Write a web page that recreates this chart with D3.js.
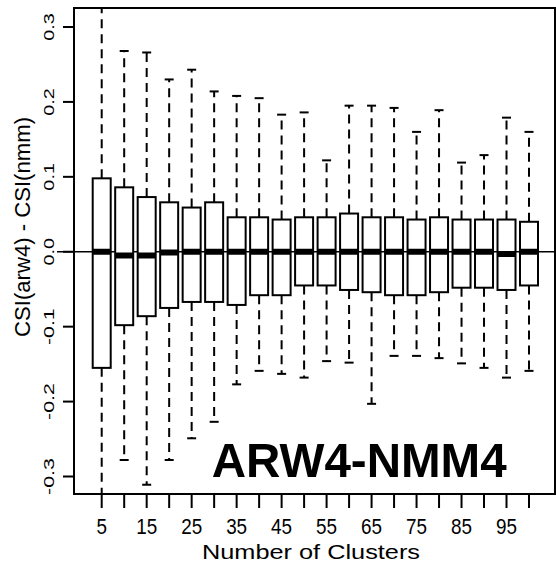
<!DOCTYPE html>
<html>
<head>
<meta charset="utf-8">
<script src="https://cdn.jsdelivr.net/npm/d3@7"></script>
<style>
  html, body { margin: 0; padding: 0; background: #fff; }
  svg text { font-family: "Liberation Sans", Arial, Helvetica, sans-serif; fill: #000; }
</style>
</head>
<body>
<div id="chart"></div>
<script>
// boxplot stats per cluster count
const clusters = [5, 10, 15, 20, 25, 30, 35, 40, 45, 50, 55, 60, 65, 70, 75, 80, 85, 90, 95, 100];
const lower    = [-0.36, -0.278, -0.311, -0.278, -0.249, -0.227, -0.177, -0.159, -0.163, -0.168,
                  -0.146, -0.148, -0.203, -0.139, -0.139, -0.142, -0.149, -0.155, -0.168, -0.159];
const q1       = [-0.155, -0.098, -0.086, -0.075, -0.067, -0.067, -0.071, -0.058, -0.058, -0.045,
                  -0.045, -0.051, -0.054, -0.058, -0.058, -0.054, -0.048, -0.048, -0.051, -0.045];
const medians  = [0.000, -0.005, -0.005, -0.001, 0.000, 0.000, 0.000, 0.000, 0.000, 0.000,
                  0.000, 0.000, 0.000, 0.000, 0.000, 0.000, 0.000, 0.000, -0.003, 0.000];
const q3       = [0.098, 0.086, 0.073, 0.066, 0.059, 0.066, 0.046, 0.046, 0.043, 0.046,
                  0.046, 0.051, 0.046, 0.046, 0.043, 0.046, 0.043, 0.043, 0.043, 0.040];
const upper    = [0.36, 0.268, 0.266, 0.230, 0.243, 0.214, 0.208, 0.205, 0.183, 0.186,
                  0.122, 0.195, 0.195, 0.192, 0.160, 0.189, 0.119, 0.129, 0.179, 0.160];

const yTicks      = [-0.3, -0.2, -0.1, 0.0, 0.1, 0.2, 0.3];
const xTickLabels = [5, 15, 25, 35, 45, 55, 65, 75, 85, 95];
const title  = "ARW4-NMM4";
const xTitle = "Number of Clusters";
const yTitle = "CSI(arw4) - CSI(nmm)";

const W = 556, H = 566;
const plot = { left: 74, top: 8, right: 555, bottom: 494 };

const x = d3.scaleLinear().domain([5, 100]).range([101.7, 529]);
const y = d3.scaleLinear().domain([-0.3, 0.3]).range([476.5, 27]);

const boxW = 18, capW = 9;

const svg = d3.select("#chart").append("svg")
  .attr("width", W).attr("height", H);

svg.append("clipPath").attr("id", "plot-clip")
  .append("rect")
  .attr("x", plot.left).attr("y", plot.top)
  .attr("width", plot.right - plot.left).attr("height", plot.bottom - plot.top);

// zero reference line (runs a bit past the left axis)
svg.append("line")
  .attr("x1", 57).attr("x2", W)
  .attr("y1", y(0)).attr("y2", y(0))
  .attr("stroke", "#000").attr("stroke-width", 1.6);

const data = clusters.map((c, i) => ({
  c, lo: lower[i], q1: q1[i], med: medians[i], q3: q3[i], hi: upper[i]
}));

const g = svg.append("g").attr("clip-path", "url(#plot-clip)");

// dashed whiskers
g.selectAll(".wh-up").data(data).enter().append("line")
  .attr("x1", d => x(d.c)).attr("x2", d => x(d.c))
  .attr("y1", d => y(d.q3)).attr("y2", d => y(d.hi))
  .attr("stroke", "#000").attr("stroke-width", 2)
  .attr("stroke-dasharray", "9,6");
g.selectAll(".wh-lo").data(data).enter().append("line")
  .attr("x1", d => x(d.c)).attr("x2", d => x(d.c))
  .attr("y1", d => y(d.q1)).attr("y2", d => y(d.lo))
  .attr("stroke", "#000").attr("stroke-width", 2)
  .attr("stroke-dasharray", "9,6");

// staples
["hi", "lo"].forEach(k => {
  g.selectAll(".cap-" + k).data(data).enter().append("line")
    .attr("x1", d => x(d.c) - capW / 2).attr("x2", d => x(d.c) + capW / 2)
    .attr("y1", d => y(d[k])).attr("y2", d => y(d[k]))
    .attr("stroke", "#000").attr("stroke-width", 2);
});

// boxes
g.selectAll(".box").data(data).enter().append("rect")
  .attr("x", d => x(d.c) - boxW / 2)
  .attr("y", d => y(d.q3))
  .attr("width", boxW)
  .attr("height", d => y(d.q1) - y(d.q3))
  .attr("fill", "#fff").attr("stroke", "#000").attr("stroke-width", 2);

// medians
g.selectAll(".med").data(data).enter().append("line")
  .attr("x1", d => x(d.c) - boxW / 2).attr("x2", d => x(d.c) + boxW / 2)
  .attr("y1", d => y(d.med)).attr("y2", d => y(d.med))
  .attr("stroke", "#000").attr("stroke-width", 6);

// frame
svg.append("rect")
  .attr("x", plot.left).attr("y", plot.top)
  .attr("width", plot.right - plot.left).attr("height", plot.bottom - plot.top)
  .attr("fill", "none").attr("stroke", "#000").attr("stroke-width", 2);

// x axis: ticks on every box, labels on every other
const xAxis = svg.append("g");
xAxis.selectAll("line").data(clusters).enter().append("line")
  .attr("x1", d => x(d)).attr("x2", d => x(d))
  .attr("y1", plot.bottom).attr("y2", plot.bottom + 14)
  .attr("stroke", "#000").attr("stroke-width", 2);
xAxis.selectAll("text").data(xTickLabels).enter().append("text")
  .attr("x", d => x(d)).attr("y", 534)
  .attr("text-anchor", "middle")
  .attr("font-size", 22)
  .attr("textLength", d => String(d).length * 10.5)
  .attr("lengthAdjust", "spacingAndGlyphs")
  .text(d => d);

// y axis, rotated labels
const yAxis = svg.append("g");
yAxis.selectAll("line").data(yTicks).enter().append("line")
  .attr("x1", plot.left - 11).attr("x2", plot.left)
  .attr("y1", d => y(d)).attr("y2", d => y(d))
  .attr("stroke", "#000").attr("stroke-width", 2);
yAxis.selectAll("text").data(yTicks).enter().append("text")
  .attr("transform", d => `translate(54,${y(d)}) rotate(-90)`)
  .attr("text-anchor", "middle")
  .attr("font-size", 14.5)
  .attr("textLength", d => d3.format(".1f")(d).length * 9.2)
  .attr("lengthAdjust", "spacingAndGlyphs")
  .text(d => d3.format(".1f")(d).replace("−", "-"));

// titles
svg.append("text")
  .attr("x", 311).attr("y", 559)
  .attr("text-anchor", "middle")
  .attr("font-size", 21)
  .attr("textLength", 218).attr("lengthAdjust", "spacingAndGlyphs")
  .text(xTitle);

svg.append("text")
  .attr("transform", "translate(29.5,227) rotate(-90)")
  .attr("text-anchor", "middle")
  .attr("font-size", 22)
  .attr("textLength", 220).attr("lengthAdjust", "spacingAndGlyphs")
  .text(yTitle);

svg.append("text")
  .attr("x", 211.7).attr("y", 477)
  .attr("font-size", 49).attr("font-weight", "bold")
  .attr("textLength", 295).attr("lengthAdjust", "spacingAndGlyphs")
  .text(title);
</script>
</body>
</html>
